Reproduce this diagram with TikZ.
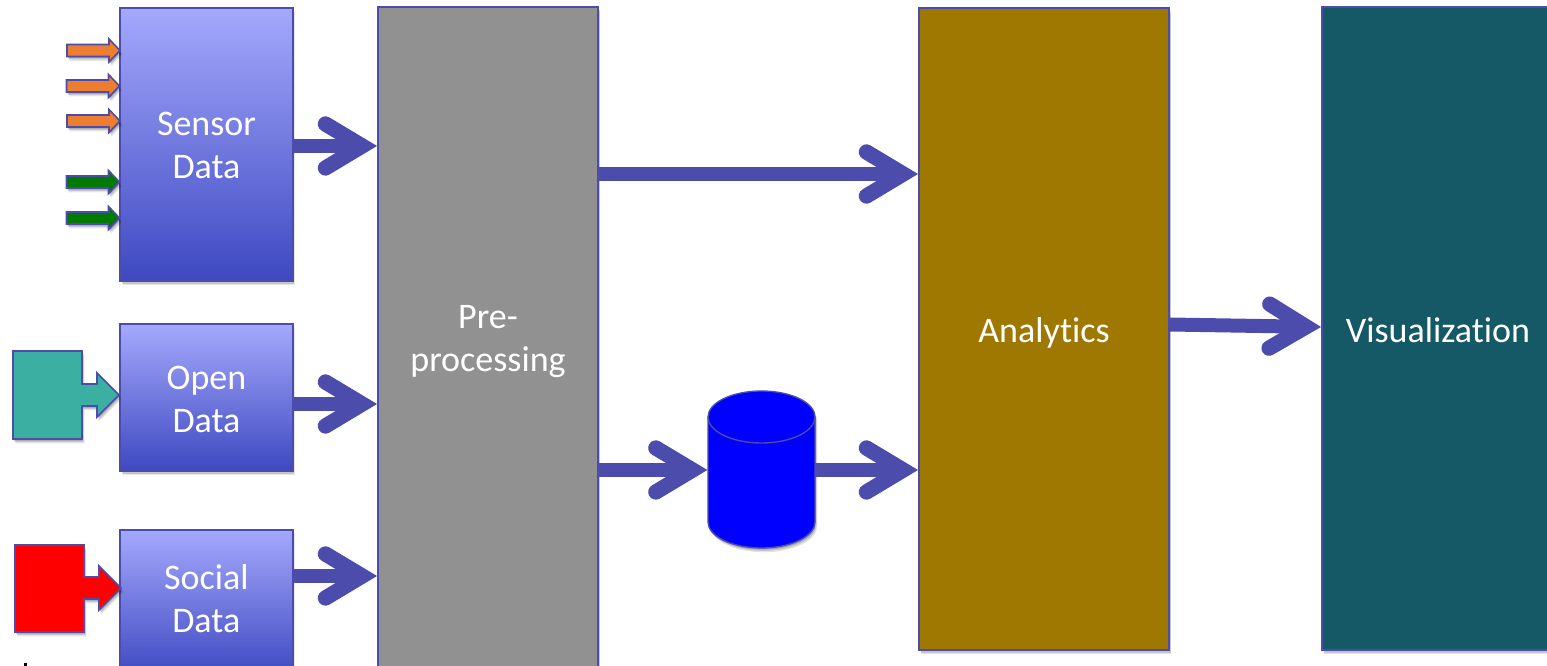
\documentclass[tikz,border=0pt]{standalone}
\usepackage{fontspec}
\setmainfont[Ligatures=NoCommon]{Carlito}
\usetikzlibrary{arrows.meta,shadows}
\definecolor{edgeblue}{HTML}{4C4CAD}
\definecolor{gradtop}{HTML}{A4A9FC}
\definecolor{gradbot}{HTML}{3E49C1}
\definecolor{procgray}{HTML}{919191}
\definecolor{anabrown}{HTML}{9E7800}
\definecolor{vizteal}{HTML}{165966}
\definecolor{opengreen}{HTML}{3CAFA3}
\definecolor{sensororange}{HTML}{ED7D31}
\definecolor{sensorgreen}{HTML}{007A00}
\newcommand\mvtext[2]{\raisebox{#1}[\height][\depth]{#2}}
\tikzset{
  softshadow/.style={drop shadow={shadow xshift=1.8pt,shadow yshift=-3.2pt,opacity=.10,fill=black},drop shadow={shadow xshift=1.2pt,shadow yshift=-2.2pt,opacity=.14,fill=black},drop shadow={shadow xshift=.6pt,shadow yshift=-1.2pt,opacity=.18,fill=black}},
  boxbase/.style={rectangle,draw=edgeblue,line width=1.5pt,inner sep=0pt,align=center,text=white,font=\fontsize{27}{32.4}\selectfont,softshadow},
  sourcebox/.style={boxbase,top color=gradtop,bottom color=gradbot},
  flow/.style={draw=edgeblue,line width=10.5pt,-{Straight Barb[length=27.5pt,width=33pt,line width=11.5pt,line cap=round,line join=miter]}},
  inarrow/.pic={\path[draw=edgeblue,line width=1.2pt,softshadow,pic actions]
     (-53,-6) -- (-11,-6) -- (-11,-11.5) -- (0,0) -- (-11,11.5) -- (-11,6) -- (-53,6) -- cycle;},
}
\begin{document}
\begin{tikzpicture}[x=0.75pt,y=-0.75pt]
\useasboundingbox (0,0) rectangle (1547,666);
\node[sourcebox,minimum width=129.5pt,minimum height=204.5pt] (sensor) at (206.5,144.5) {\mvtext{-.75pt}{Sensor}\\\mvtext{-.75pt}{Data}};
\node[sourcebox,minimum width=129.5pt,minimum height=110pt] (open) at (206.5,397.5) {\mvtext{-1.5pt}{Open}\\\mvtext{-1.5pt}{Data}};
\node[sourcebox,minimum width=129.5pt,minimum height=110pt] (social) at (206.3,603) {\mvtext{3pt}{Social}\\\mvtext{3pt}{Data}};
\node[boxbase,fill=procgray,minimum width=165pt,minimum height=495pt] (pre) at (488,337) {\mvtext{-3.4pt}{Pre-}\\\mvtext{-3.4pt}{processing}};
\node[boxbase,fill=anabrown,minimum width=187.5pt,minimum height=481pt] (ana) at (1044,329) {\mvtext{-3pt}{Analytics}};
\node[boxbase,fill=vizteal,minimum width=174pt,minimum height=482pt] (viz) at (1438,328.5) {\mvtext{-1.5pt}{Visualization}};
% database cylinder
\node[minimum width=80pt,minimum height=117.5pt,inner sep=0pt] (db) at (761,469.5) {};
\path[draw=edgeblue,line width=1pt,fill=blue,softshadow]
  (708,417) arc[start angle=180,end angle=0,x radius=53.5,y radius=-26]
  -- (815,522) arc[start angle=0,end angle=-180,x radius=53.5,y radius=-26] -- cycle;
\draw[edgeblue,line width=1pt] (708,417) arc[start angle=180,end angle=360,x radius=53.5,y radius=-26];
% sensor inputs
\pic[fill=sensororange] at (120,50.5) {inarrow};
\pic[fill=sensororange] at (119.5,86) {inarrow};
\pic[fill=sensororange] at (120,121) {inarrow};
\pic[fill=sensorgreen] at (119.5,182) {inarrow};
\pic[fill=sensorgreen] at (119.5,218) {inarrow};
% block arrows
\path[draw=edgeblue,line width=1.2pt,fill=opengreen,softshadow]
  (13,351) -- (82,351) -- (82,384) -- (97,384) -- (97,373) -- (119,395) -- (97,417) -- (97,406) -- (82,406) -- (82,439) -- (13,439) -- cycle;
\path[draw=edgeblue,line width=1.2pt,fill=red,softshadow]
  (15,545) -- (84,545) -- (84,577) -- (99,577) -- (99,566) -- (121,588) -- (99,610) -- (99,599) -- (84,599) -- (84,632) -- (15,632) -- cycle;
\fill[black] (24,663) rectangle (27,666);
% flows
\coordinate (s1) at (sensor.east |- 0,146);
\coordinate (s2) at (pre.west |- 0,146);
\coordinate (o1e) at (open.east |- 0,404);
\coordinate (o2e) at (pre.west |- 0,404);
\coordinate (c1) at (social.east |- 0,576);
\coordinate (c2) at (pre.west |- 0,576);
\coordinate (p1) at (pre.east |- 0,174);
\coordinate (p2) at (ana.west |- 0,174);
\coordinate (p3) at (pre.east |- 0,470);
\coordinate (d1) at (db.west |- 0,470);
\coordinate (d2) at (db.east |- 0,470);
\coordinate (a3) at (ana.west |- 0,470);
\coordinate (a1) at (ana.east |- 0,324.5);
\coordinate (v1) at (viz.west |- 0,327);
\draw[flow] (s1) -- (s2);
\draw[flow] (o1e) -- (o2e);
\draw[flow] (c1) -- (c2);
\draw[flow] (p1) -- (p2);
\draw[flow] (p3) -- (d1);
\draw[flow] (d2) -- (a3);
\draw[flow] (a1) -- (v1);
\end{tikzpicture}
\end{document}
